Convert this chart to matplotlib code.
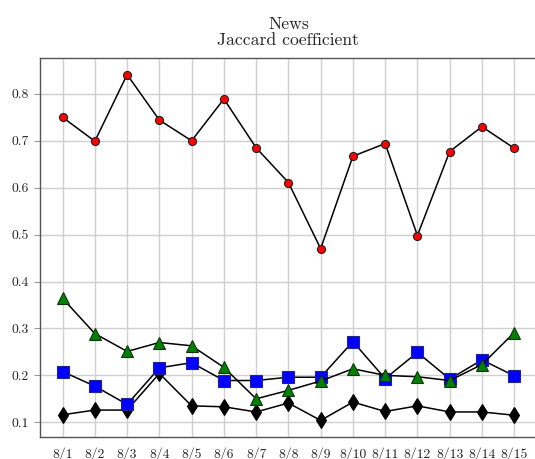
import matplotlib
matplotlib.use("Agg")
import matplotlib.pyplot as plt
from matplotlib.ticker import FormatStrFormatter

plt.rcParams["font.family"] = "serif"
plt.rcParams["font.serif"] = ["cmr10", "DejaVu Serif"]
plt.rcParams["axes.formatter.use_mathtext"] = True

dates = ["8/1", "8/2", "8/3", "8/4", "8/5", "8/6", "8/7", "8/8",
         "8/9", "8/10", "8/11", "8/12", "8/13", "8/14", "8/15"]

red_circle = [0.750, 0.699, 0.841, 0.744, 0.700, 0.789, 0.685, 0.611,
              0.470, 0.667, 0.694, 0.498, 0.677, 0.730, 0.684]
black_diamond = [0.116, 0.126, 0.126, 0.204, 0.135, 0.133, 0.122, 0.141,
                 0.104, 0.143, 0.123, 0.135, 0.122, 0.122, 0.115]
blue_square = [0.208, 0.177, 0.138, 0.216, 0.227, 0.189, 0.189, 0.196,
               0.196, 0.272, 0.193, 0.249, 0.192, 0.233, 0.199]
green_triangle = [0.364, 0.289, 0.251, 0.270, 0.263, 0.217, 0.150, 0.168,
                  0.188, 0.214, 0.200, 0.197, 0.189, 0.223, 0.291]

fig = plt.figure(figsize=(5.35, 4.59), dpi=100)
ax = fig.add_axes([0.0748, 0.0473, 0.9285, 0.8270])

x = list(range(len(dates)))
ax.plot(x, red_circle, color="black", lw=1.1, marker="o", ms=5.8,
        mfc="red", mec="#222222", mew=0.8, zorder=3)
ax.plot(x, black_diamond, color="black", lw=1.1, marker="d", ms=8,
        mfc="black", mec="black", mew=0.8, zorder=3)
ax.plot(x, blue_square, color="black", lw=1.1, marker="s", ms=8.5,
        mfc="blue", mec="#222288", mew=0.8, zorder=3)
ax.plot(x, green_triangle, color="black", lw=1.1, marker="^", ms=8.5,
        mfc="green", mec="#113311", mew=0.8, zorder=3)

ax.set_xlim(-0.7, 14.7)
ax.set_ylim(0.068, 0.877)
ax.set_xticks(x)
ax.set_xticklabels(dates)
ax.set_yticks([0.1, 0.2, 0.3, 0.4, 0.5, 0.6, 0.7, 0.8])
ax.yaxis.set_major_formatter(FormatStrFormatter("%.1f"))
ax.tick_params(axis="x", length=0, pad=7, labelsize=9.8, colors="#222222")
ax.tick_params(axis="y", length=4, width=0.8, color="#999999", pad=4,
               labelsize=9.8, labelcolor="#222222")

ax.grid(True, color="#d0d0d0", lw=1.0, zorder=0)
ax.set_axisbelow(True)
for side in ["left", "bottom", "top"]:
    ax.spines[side].set_color("#555555")
    ax.spines[side].set_linewidth(1.0)
ax.spines["right"].set_visible(False)

ax.set_title("News\nJaccard coefficient", fontsize=12.7, color="#222222",
             pad=9, linespacing=1.1)

fig.savefig("out.png", dpi=100)
